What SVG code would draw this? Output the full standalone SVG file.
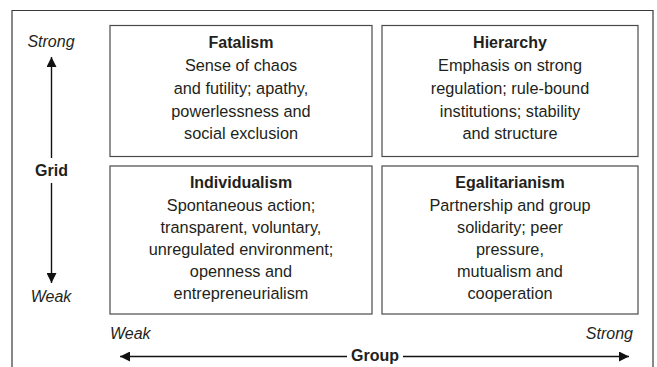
<svg xmlns="http://www.w3.org/2000/svg" width="657" height="367" viewBox="0 0 657 367">
  <style>
    .frame { fill: none; stroke: #3a3a3a; stroke-width: 1.2; }
    .box { fill: #ffffff; stroke: #4a4a4a; stroke-width: 1.2; }
    .axis { stroke: #111111; stroke-width: 1.4; fill: none; }
    text { font-family: "Liberation Sans", Arial, sans-serif; fill: #231f20; }
    .title { font-size: 16px; font-weight: bold; text-anchor: middle; }
    .body { font-size: 16.3px; text-anchor: middle; }
    .pole { font-size: 16px; font-style: italic; }
    .axislabel { font-size: 16px; font-weight: bold; text-anchor: middle; }
  </style>
  <defs>
    <marker id="head" viewBox="0 0 10 10" refX="10" refY="5" markerWidth="10" markerHeight="10" markerUnits="userSpaceOnUse" orient="auto">
      <path d="M0,0 L10,5 L0,10 Z" fill="#111111"/>
    </marker>
  </defs>

  <rect width="657" height="367" fill="#ffffff"/>
  <!-- outer frame, open at the bottom -->
  <path class="frame" d="M12,368 V10.5 H653 V368"/>

  <g id="fatalism">
    <rect class="box" x="110" y="25.5" width="262" height="131"/>
    <text class="title" x="241" y="48">Fatalism</text>
    <text class="body" x="241" y="71">Sense of chaos</text>
    <text class="body" x="241" y="93.5">and futility; apathy,</text>
    <text class="body" x="241" y="116.5">powerlessness and</text>
    <text class="body" x="241" y="139">social exclusion</text>
  </g>

  <g id="hierarchy">
    <rect class="box" x="382" y="25.5" width="256" height="131"/>
    <text class="title" x="510" y="48">Hierarchy</text>
    <text class="body" x="510" y="71">Emphasis on strong</text>
    <text class="body" x="510" y="93.5">regulation; rule-bound</text>
    <text class="body" x="510" y="116.5">institutions; stability</text>
    <text class="body" x="510" y="139">and structure</text>
  </g>

  <g id="individualism">
    <rect class="box" x="110" y="166" width="262" height="148"/>
    <text class="title" x="241" y="188">Individualism</text>
    <text class="body" x="241" y="210.5">Spontaneous action;</text>
    <text class="body" x="241" y="232.5">transparent, voluntary,</text>
    <text class="body" x="241" y="254.5">unregulated environment;</text>
    <text class="body" x="241" y="276.5">openness and</text>
    <text class="body" x="241" y="298.5">entrepreneurialism</text>
  </g>

  <g id="egalitarianism">
    <rect class="box" x="382" y="166" width="256" height="148"/>
    <text class="title" x="510" y="188">Egalitarianism</text>
    <text class="body" x="510" y="210.5">Partnership and group</text>
    <text class="body" x="510" y="232.5">solidarity; peer</text>
    <text class="body" x="510" y="254.5">pressure,</text>
    <text class="body" x="510" y="276.5">mutualism and</text>
    <text class="body" x="510" y="298.5">cooperation</text>
  </g>

  <g id="connectors">
    <!-- grid axis -->
    <line class="axis" x1="51.5" y1="158" x2="51.5" y2="57" marker-end="url(#head)"/>
    <line class="axis" x1="51.5" y1="183" x2="51.5" y2="283" marker-end="url(#head)"/>
    <!-- group axis -->
    <line class="axis" x1="347" y1="356.5" x2="120" y2="356.5" marker-end="url(#head)"/>
    <line class="axis" x1="403" y1="356.5" x2="629" y2="356.5" marker-end="url(#head)"/>
  </g>

  <g id="axis-labels">
    <text class="pole" x="51" y="47" text-anchor="middle">Strong</text>
    <text class="axislabel" x="51.5" y="175.5">Grid</text>
    <text class="pole" x="51" y="302" text-anchor="middle">Weak</text>
    <text class="pole" x="110" y="339">Weak</text>
    <text class="pole" x="633" y="339" text-anchor="end">Strong</text>
    <text class="axislabel" x="375" y="361">Group</text>
  </g>
</svg>
